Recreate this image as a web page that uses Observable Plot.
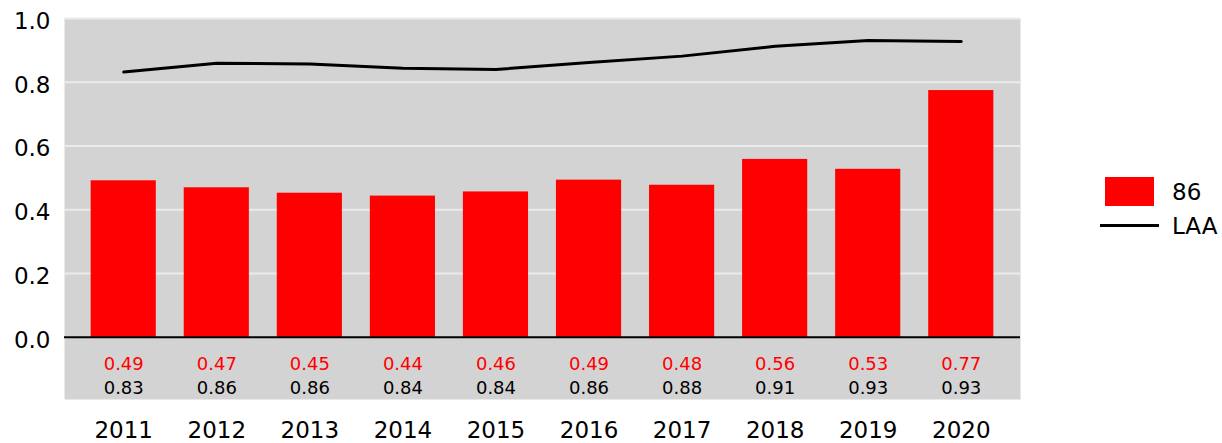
<!DOCTYPE html>
<html>
<head>
<meta charset="utf-8">
<script src="https://cdn.jsdelivr.net/npm/d3@7"></script>
<script src="https://cdn.jsdelivr.net/npm/@observablehq/plot@0.6"></script>
<style>
  body { margin: 0; background: #fff; font-family: "DejaVu Sans", sans-serif; }
  #wrap { position: relative; width: 1222px; height: 443px; }
  #legend { position: absolute; left: 0; top: 0; width: 1222px; height: 443px; pointer-events: none; }
  .sw { position: absolute; }
  .lab { position: absolute; font-size: 23px; line-height: 23px; color: #000; }
</style>
</head>
<body>
<div id="wrap">
  <div id="chart"></div>
  <div id="legend">
    <div class="sw" style="left:1105px; top:177px; width:49px; height:29px; background:#ff0000;"></div>
    <div class="lab" style="left:1172px; top:181px;">86</div>
    <div class="sw" style="left:1100px; top:224px; width:59px; height:3px; background:#000;"></div>
    <div class="lab" style="left:1172px; top:215px;">LAA</div>
  </div>
</div>
<script>
const years = ["2011","2012","2013","2014","2015","2016","2017","2018","2019","2020"];
const v86 = [0.491, 0.469, 0.452, 0.443, 0.456, 0.493, 0.477, 0.558, 0.527, 0.774];
const laa = [0.832, 0.860, 0.857, 0.844, 0.840, 0.862, 0.882, 0.913, 0.931, 0.928];
const yTicks = [0, 0.2, 0.4, 0.6, 0.8, 1.0];
const gridTicks = [0.2, 0.4, 0.6, 0.8, 1.0];

const data = years.map((y, i) => ({year: y, v86: v86[i], laa: laa[i]}));
const fmt = d3.format(".2f");

const chart = Plot.plot({
  width: 1222,
  height: 443,
  marginLeft: 64,
  marginRight: 202,
  marginTop: 18,
  marginBottom: 44,
  style: {fontFamily: "DejaVu Sans", background: "transparent"},
  x: {domain: years, paddingInner: 0.3, paddingOuter: 0.2865, align: 0.5, round: false, label: null},
  y: {domain: [-0.195, 1], label: null},
  marks: [
    Plot.frame({fill: "#d3d3d3", stroke: null}),
    Plot.ruleY(gridTicks, {stroke: "#ebebeb", strokeWidth: 2}),
    Plot.barY(data, {x: "year", y: "v86", fill: "#ff0000"}),
    Plot.ruleY([0], {stroke: "#000", strokeWidth: 2}),
    Plot.line(data, {x: "year", y: "laa", stroke: "#000", strokeWidth: 3}),
    Plot.text(data, {x: "year", y: 0, dy: 27, text: d => fmt(d.v86), fill: "#ff0000", fontSize: 18}),
    Plot.text(data, {x: "year", y: 0, dy: 51, text: d => fmt(d.laa), fill: "#000", fontSize: 18}),
    Plot.axisY({ticks: yTicks, tickFormat: d3.format(".1f"), tickSize: 0, tickPadding: 14, fontSize: 23, dy: 3, label: null, fill: "#000"}),
    Plot.axisX({tickSize: 0, tickPadding: 22, fontSize: 23, label: null, fill: "#000"})
  ]
});
document.getElementById("chart").appendChild(chart);
</script>
</body>
</html>
